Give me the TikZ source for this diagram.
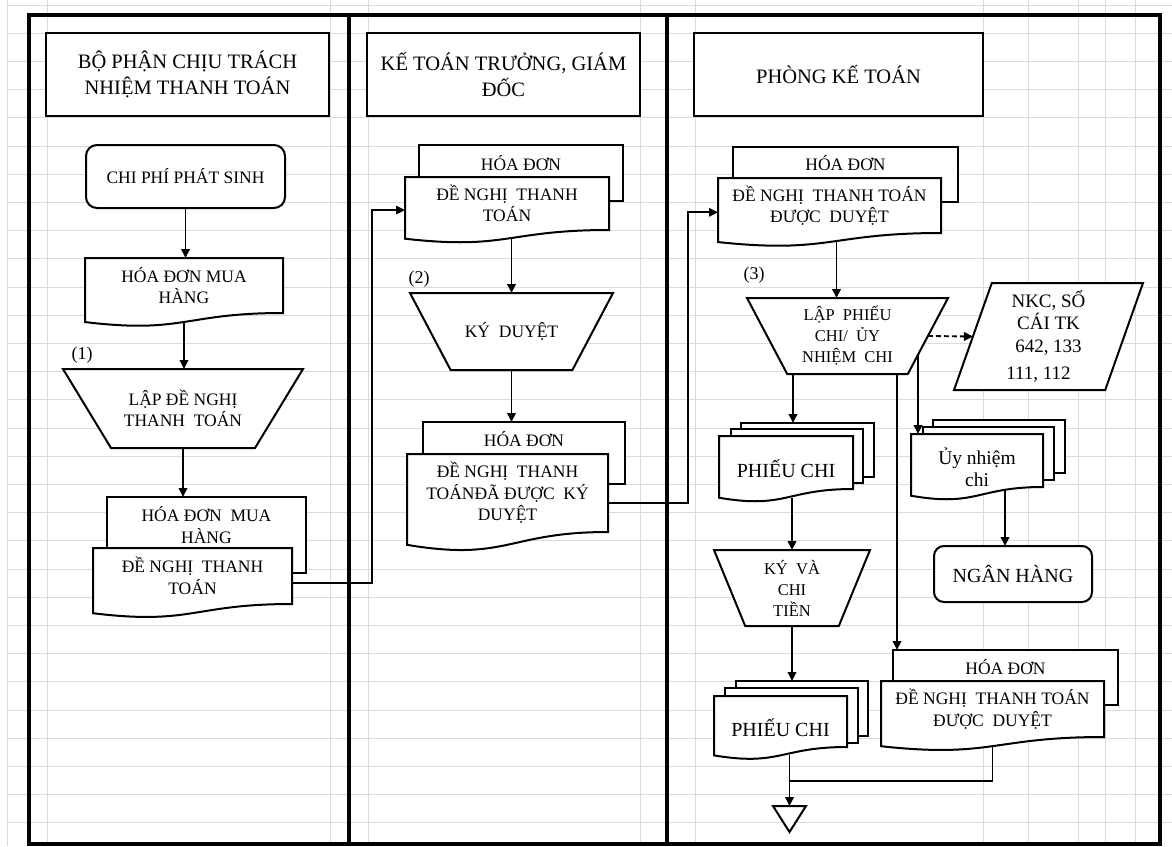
\documentclass[tikz,border=0pt]{standalone}
\usepackage{fontspec}
\setmainfont{Liberation Serif}
\usetikzlibrary{calc,arrows.meta}

\makeatletter
% corner values of a rectangle-based shape, kept in macros
\def\rs@corners{%
  \southwest\edef\rs@xa{\the\pgf@x}\edef\rs@ya{\the\pgf@y}%
  \northeast\edef\rs@xb{\the\pgf@x}\edef\rs@yb{\the\pgf@y}%
  \pgf@xc=\rs@xb\relax\advance\pgf@xc by -\rs@xa\relax\edef\rs@w{\the\pgf@xc}%
  \pgf@yc=\rs@yb\relax\advance\pgf@yc by -\rs@ya\relax\edef\rs@h{\the\pgf@yc}%
  \pgf@xc=\rs@xa\relax\advance\pgf@xc by \rs@xb\relax\pgf@xc=.5\pgf@xc\edef\rs@xm{\the\pgf@xc}%
  \pgf@xc=\rs@w\relax\pgf@xc=.2\pgf@xc\edef\rs@in{\the\pgf@xc}%
  \pgf@xc=\rs@xb\relax\advance\pgf@xc by -\rs@in\relax\edef\rs@xd{\the\pgf@xc}%
  \pgf@xc=\rs@xa\relax\advance\pgf@xc by \rs@in\relax\edef\rs@xe{\the\pgf@xc}%
}
\def\rs@inherit{%
  \inheritsavedanchors[from=rectangle]%
  \inheritanchorborder[from=rectangle]%
  \inheritanchor[from=rectangle]{center}%
  \inheritanchor[from=rectangle]{north}%
  \inheritanchor[from=rectangle]{south}%
  \inheritanchor[from=rectangle]{east}%
  \inheritanchor[from=rectangle]{west}%
  \inheritanchor[from=rectangle]{north east}%
  \inheritanchor[from=rectangle]{north west}%
  \inheritanchor[from=rectangle]{south east}%
  \inheritanchor[from=rectangle]{south west}%
}
% flowchart document: the rectangle reaches the right-hand foot, the wave hangs below it
\pgfdeclareshape{docwave}{%
  \rs@inherit
  \anchor{wave}{\rs@corners\pgf@x=\rs@xm\relax\pgf@y=\rs@h\relax\pgf@y=-0.163\pgf@y\advance\pgf@y by \rs@ya\relax}%
  \anchor{ceast}{\rs@corners\pgf@x=\rs@xb\relax\pgf@y=\rs@h\relax\pgf@y=-0.6234\pgf@y\advance\pgf@y by \rs@yb\relax}%
  \anchor{cwest}{\rs@corners\pgf@x=\rs@xa\relax\pgf@y=\rs@h\relax\pgf@y=-0.6234\pgf@y\advance\pgf@y by \rs@yb\relax}%
  \backgroundpath{\rs@corners
    \pgf@yc=\rs@h\relax\pgf@yc=-0.381\pgf@yc\advance\pgf@yc by \rs@ya\relax\edef\rs@yd{\the\pgf@yc}%
    \pgf@yc=\rs@h\relax\pgf@yc=-0.1646\pgf@yc\advance\pgf@yc by \rs@ya\relax\edef\rs@ye{\the\pgf@yc}%
    \pgfpathmoveto{\pgfqpoint{\rs@xa}{\rs@yb}}%
    \pgfpathlineto{\pgfqpoint{\rs@xb}{\rs@yb}}%
    \pgfpathlineto{\pgfqpoint{\rs@xb}{\rs@ya}}%
    \pgfpathcurveto{\pgfqpoint{\rs@xm}{\rs@ya}}{\pgfqpoint{\rs@xm}{\rs@yd}}{\pgfqpoint{\rs@xa}{\rs@ye}}%
    \pgfpathclose}%
}
% manual operation: wide top, bottom inset by a fifth of the width each side
\pgfdeclareshape{manualop}{%
  \rs@inherit
  \backgroundpath{\rs@corners
    \pgfpathmoveto{\pgfqpoint{\rs@xa}{\rs@yb}}%
    \pgfpathlineto{\pgfqpoint{\rs@xb}{\rs@yb}}%
    \pgfpathlineto{\pgfqpoint{\rs@xd}{\rs@ya}}%
    \pgfpathlineto{\pgfqpoint{\rs@xe}{\rs@ya}}%
    \pgfpathclose}%
}
% data (parallelogram)
\pgfdeclareshape{dataio}{%
  \rs@inherit
  \backgroundpath{\rs@corners
    \pgfpathmoveto{\pgfqpoint{\rs@xe}{\rs@yb}}%
    \pgfpathlineto{\pgfqpoint{\rs@xb}{\rs@yb}}%
    \pgfpathlineto{\pgfqpoint{\rs@xd}{\rs@ya}}%
    \pgfpathlineto{\pgfqpoint{\rs@xa}{\rs@ya}}%
    \pgfpathclose}%
}
% merge: triangle pointing down
\pgfdeclareshape{mergetri}{%
  \rs@inherit
  \backgroundpath{\rs@corners
    \pgfpathmoveto{\pgfqpoint{\rs@xa}{\rs@yb}}%
    \pgfpathlineto{\pgfqpoint{\rs@xb}{\rs@yb}}%
    \pgfpathlineto{\pgfqpoint{\rs@xm}{\rs@ya}}%
    \pgfpathclose}%
}
\makeatother

\newcommand\setfs[2]{\fontsize{#1}{#2}\selectfont}
\newcommand\lowtxt[1]{\raisebox{-6.5pt}[\height][\depth]{#1}}
\definecolor{gridgray}{RGB}{218,218,218}

\tikzset{
  gridln/.style={draw=gridgray, line width=1pt},
  lanerule/.style={line width=3.6pt},
  shp/.style={draw, fill=white, line width=2pt, inner sep=0pt, outer sep=0pt,
    align=center, anchor=north west},
  hdr/.style={shp, shape=rectangle, line width=2.2pt, minimum height=83pt, font=\setfs{20.5}{26}},
  doc/.style={shp, shape=docwave, font=\setfs{17.5}{21.5}},
  sheet/.style={shp, shape=rectangle},
  manop/.style={shp, shape=manualop, font=\setfs{17.5}{21.5}},
  io/.style={shp, shape=dataio, font=\setfs{19}{22.5}},
  rbox/.style={shp, shape=rectangle, rounded corners=11pt, font=\setfs{17.5}{21.5}},
  mrg/.style={shp, shape=mergetri},
  txt/.style={inner sep=0pt, outer sep=0pt, align=center, font=\setfs{17.5}{21.5}},
  numlbl/.style={txt, font=\setfs{18}{21}},
  conn/.style={line width=1.9pt},
  arr/.style={conn, -{Triangle[length=9pt,width=8.5pt]}},
}

\begin{document}
\begin{tikzpicture}[x=1pt,y=-1pt]
\useasboundingbox (0,0) rectangle (1172,846);

% spreadsheet grid
\foreach \gx in {7,47,330,368,640,695,983,1028,1078,1105,1135}
  \draw[gridln] (\gx,0) -- (\gx,846);
\foreach \k in {0,...,29}
  \draw[gridln] (7,{5+28.2*\k}) -- (1172,{5+28.2*\k});

% swimlanes
\draw[lanerule] (29,15) rectangle (1160,844);
\draw[lanerule] (349,15) -- (349,844);
\draw[lanerule] (667,15) -- (667,844);

% ---- lane 1
\node[hdr, minimum width=283pt] (h1) at (46,33) {BỘ PHẬN CHỊU TRÁCH\\NHIỆM THANH TOÁN};
\node[rbox, minimum width=199pt, minimum height=63pt] (cp) at (86,145) {CHI PHÍ PHÁT SINH};
\node[doc, minimum width=198pt, minimum height=55pt] (d1) at (85,258) {HÓA ĐƠN MUA\\HÀNG};
\node[numlbl] (lb1) at (82,355) {(1)};
\node[manop, minimum width=240pt, minimum height=79pt] (t1) at (63,369) {LẬP ĐỀ NGHỊ\\THANH\ \ TOÁN};
\node[sheet, minimum width=199pt, minimum height=76pt] (b1) at (107,497) {};
\node[txt] (b1t) at ([yshift=-28pt]b1.north) {HÓA ĐƠN\ \ MUA\\HÀNG};
\node[doc, minimum width=199pt, minimum height=56pt] (d2) at (93,548) {ĐỀ NGHỊ\ \ THANH\\TOÁN};

% ---- lane 2
\node[hdr, minimum width=273pt] (h2) at (367,33) {KẾ TOÁN TRƯỞNG, GIÁM\\ĐỐC};
\node[sheet, minimum width=204pt, minimum height=56pt] (b2) at (419,145) {};
\node[txt] (b2t) at ([yshift=-18pt]b2.north) {HÓA ĐƠN};
\node[doc, minimum width=204pt, minimum height=53pt] (d3) at (405,177) {ĐỀ NGHỊ\ \ THANH\\TOÁN};
\node[numlbl] (lb2) at (419,279) {(2)};
\node[manop, minimum width=203pt, minimum height=77pt] (t2) at (410,293) {KÝ\ \ DUYỆT};
\node[sheet, minimum width=202pt, minimum height=62pt] (b3) at (423,422) {};
\node[txt] (b3t) at ([yshift=-17pt]b3.north) {HÓA ĐƠN};
\node[doc, minimum width=201pt, minimum height=78pt] (d4) at (407,454) {ĐỀ NGHỊ\ \ THANH\\TOÁNĐÃ ĐƯỢC\ \ KÝ\\DUYỆT};

% ---- lane 3
\node[hdr, minimum width=289pt] (h3) at (694,33) {PHÒNG KẾ TOÁN};
\node[sheet, minimum width=225pt, minimum height=55pt] (b5) at (733,147) {};
\node[txt] (b5t) at ([yshift=-16pt]b5.north) {HÓA ĐƠN};
\node[doc, minimum width=223pt, minimum height=55pt] (d5) at (718,178) {ĐỀ NGHỊ\ \ THANH TOÁN\\ĐƯỢC\ \ DUYỆT};
\node[numlbl] (lb3) at (754,275) {(3)};
\node[manop, minimum width=201pt, minimum height=76pt, font=\setfs{16.5}{21}] (t3) at (747,298) {LẬP\ \ PHIẾU\\CHI/\ \ ỦY\\NHIỆM\ \ CHI};
\node[io, minimum width=189pt, minimum height=107pt] (nkc) at (954,283) {NKC, SỔ\\CÁI TK\\642, 133\\[4.5pt]\hspace*{-20pt}111, 112};

\node[sheet, minimum width=133pt, minimum height=54pt] (pc1c) at (741,423) {};
\node[sheet, minimum width=132pt, minimum height=54pt] (pc1b) at (731,429) {};
\node[doc, minimum width=134pt, minimum height=53pt, font=\setfs{20}{24}] (pc1) at (719,436) {\lowtxt{PHIẾU CHI}};

\node[sheet, minimum width=132pt, minimum height=53pt] (unc) at (933,420) {};
\node[sheet, minimum width=131pt, minimum height=53pt] (unb) at (923,427) {};
\node[doc, minimum width=132pt, minimum height=53pt, font=\setfs{19.5}{22}] (un) at (911,434) {\lowtxt{Ủy nhiệm}\\\lowtxt{chi}};

\node[rbox, minimum width=158pt, minimum height=56pt, rounded corners=10pt, font=\setfs{20}{24}] (ng) at (934,546) {NGÂN HÀNG};
\node[manop, minimum width=156pt, minimum height=76pt, font=\setfs{16.5}{21}] (t4) at (714,550) {KÝ\ \ VÀ\\CHI\\TIỀN};

\node[sheet, minimum width=132pt, minimum height=55pt] (pc2c) at (736,681) {};
\node[sheet, minimum width=133pt, minimum height=55pt] (pc2b) at (725,688) {};
\node[doc, minimum width=133pt, minimum height=51pt, font=\setfs{20}{24}] (pc2) at (714,696) {\lowtxt{PHIẾU CHI}};

\node[sheet, minimum width=225pt, minimum height=55pt] (b6) at (893,650) {};
\node[txt] (b6t) at ([yshift=-17pt]b6.north) {HÓA ĐƠN};
\node[doc, minimum width=223pt, minimum height=56pt] (d6) at (881,681) {ĐỀ NGHỊ\ \ THANH TOÁN\\ĐƯỢC\ \ DUYỆT};

\node[mrg, minimum width=33pt, minimum height=26pt] (mg) at (773,806) {};

% ---- connectors, lane 1
\draw[arr] (cp.south) -- (cp.south |- d1.north);
\draw[arr] (d1.wave) -- (d1.wave |- t1.north);
\draw[arr] (t1.south) -- (t1.south |- b1.north);
\draw[arr] (d2.ceast) -- ++(80,0) |- (d3.cwest);

% ---- connectors, lane 2
\draw[arr] (t2.north |- d3.wave) -- (t2.north);
\draw[arr] (t2.south) -- (t2.south |- b3.north);
\draw[arr] (d4.ceast) -- ++(80,0) |- (d5.cwest);

% ---- connectors, lane 3
\coordinate (x3) at ($(d5.wave)+(7,0)$);
\draw[arr] (x3) -- (x3 |- t3.north);
\draw[arr, dashed, dash pattern=on 5pt off 3pt] ([xshift=-20.1pt]t3.east) -- ([xshift=18.9pt]nkc.west);
\coordinate (x4) at ($(t3.south west)+(46,0)$);
\draw[arr] (x4) -- (x4 |- pc1c.north);
\coordinate (x5) at ($(t3.south west)+(150,0)$);
\draw[arr] (x5) -- (x5 |- b6.north);
\coordinate (x6) at ($(t3.north east)!0.746!(t3.south east)+(-30,0)$);
\draw[arr] (x6) -- (x6 |- un.north);
\coordinate (x7) at ($(un.south west)+(94,3)$);
\draw[arr] (x7) -- (x7 |- ng.north);
\draw[arr] (pc1.wave -| t4.north) -- (t4.north);
\draw[arr] (t4.south) -- (t4.south |- pc2c.north);
\coordinate (jn) at ($(mg.north)+(0,-25)$);
\draw[conn] (d6.wave) |- (jn);
\draw[arr] (pc2.wave -| mg.north) -- (mg.north);
\end{tikzpicture}
\end{document}
